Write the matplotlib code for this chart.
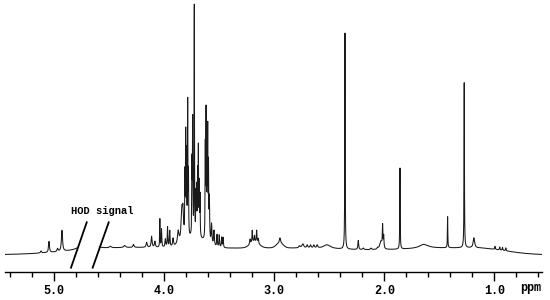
import numpy as np
import matplotlib
matplotlib.use("Agg")
import matplotlib.pyplot as plt

# ---------------- data ----------------
# sharp / medium peaks: chemical shift (ppm), height (a.u.), half-width (ppm)
peak_ppm = [5.12, 5.048, 4.97, 4.93, 4.70,
            4.49, 4.36, 4.28,
            4.16, 4.115, 4.085, 4.04, 4.025, 3.99, 3.97, 3.95, 3.92, 3.873,
            3.84, 3.83, 3.812, 3.805, 3.797, 3.787, 3.780,
            3.748, 3.742, 3.727, 3.712, 3.705, 3.697, 3.69, 3.682, 3.675,
            3.627, 3.62, 3.612, 3.605, 3.598, 3.59,
            3.57, 3.548, 3.52, 3.50, 3.478, 3.465,
            3.22, 3.20, 3.18, 3.16, 3.145, 2.948,
            2.77, 2.74, 2.70, 2.67, 2.64, 2.61, 2.52,
            2.357, 2.236, 2.19, 2.12, 2.06, 2.03, 2.015, 2.005, 1.857, 1.64,
            1.424, 1.273, 1.185, 0.993, 0.95, 0.925, 0.895]
peak_height = [2, 11, 3, 21, 60,
               1.5, 2, 3,
               5, 11, 6, 28, 18, 8, 20, 16, 8, 13,
               30, 25, 60, 100, 80, 132, 60,
               70, 112, 229, 40, 45, 60, 85, 50, 40,
               90, 122, 95, 105, 70, 42,
               20, 15, 12, 12, 10, 10,
               5, 12, 6, 12, 5, 5,
               2, 4, 3, 3, 3, 3, 4,
               216, 9, 1.5, 1.5, 1.5, 8, 22, 12, 81, 4,
               31, 165, 10, 3, 3, 3, 3]
peak_width = [0.006, 0.005, 0.006, 0.006, 0.02,
              0.01, 0.01, 0.006,
              0.006, 0.005, 0.005, 0.002, 0.003, 0.004, 0.003, 0.003, 0.005, 0.008,
              0.008, 0.006, 0.002, 0.002, 0.002, 0.002, 0.002,
              0.002, 0.002, 0.0018, 0.002, 0.002, 0.002, 0.002, 0.002, 0.002,
              0.002, 0.002, 0.002, 0.002, 0.002, 0.003,
              0.004, 0.004, 0.003, 0.003, 0.003, 0.003,
              0.004, 0.003, 0.003, 0.003, 0.004, 0.006,
              0.008, 0.01, 0.006, 0.006, 0.006, 0.006, 0.04,
              0.002, 0.004, 0.006, 0.006, 0.006, 0.012, 0.003, 0.003, 0.002, 0.05,
              0.002, 0.002, 0.008, 0.003, 0.003, 0.003, 0.003]

# broad baseline components (Gaussian): centre (ppm), height, sigma (ppm)
base_ppm = [4.40, 3.00, 1.45, 1.05, 3.72, 3.18, 2.95]
base_height = [5, 7, 5, 3, 10, 6, 5]
base_sigma = [0.45, 0.90, 0.35, 0.20, 0.09, 0.04, 0.03]
base_offset = 1.0

# region cut out of the spectrum (water / HOD signal)
hod_cut = (4.59, 4.795)

major_ticks = [5.0, 4.0, 3.0, 2.0, 1.0]
tick_labels = ["5.0", "4.0", "3.0", "2.0", "1.0"]

# ---------------- build spectrum ----------------
grid = np.linspace(0.566, 5.448, 20000)
ppm = np.union1d(grid, np.array(peak_ppm))
inten = np.full_like(ppm, base_offset)
for c, h, s in zip(base_ppm, base_height, base_sigma):
    inten += h * np.exp(-((ppm - c) ** 2) / (2 * s * s))
for c, h, w in zip(peak_ppm, peak_height, peak_width):
    inten += h * w * w / ((ppm - c) ** 2 + w * w)
inten[(ppm > hod_cut[0]) & (ppm < hod_cut[1])] = np.nan

# ---------------- figure ----------------
fig = plt.figure(figsize=(5.5, 3.0), dpi=100)
ax = fig.add_axes([5 / 550, 28 / 300, 537 / 550, 272 / 300])
ax.plot(ppm, inten, color="#1a1a1a", lw=0.75)
ax.set_xlim(5.448, 0.566)
ax.set_ylim(-16, 256)

for s in ["left", "right", "top"]:
    ax.spines[s].set_visible(False)
ax.spines["bottom"].set_linewidth(1.0)
ax.set_yticks([])
ax.set_xticks(major_ticks)
ax.set_xticklabels(tick_labels)
ax.set_xticks(np.arange(0.6, 5.45, 0.2), minor=True)
ax.tick_params(axis="x", which="major", length=6.5, width=1.0, direction="out",
               pad=3, labelsize=8.5)
ax.tick_params(axis="x", which="minor", length=3.5, width=1.0, direction="out")
for lab in ax.get_xticklabels():
    lab.set_fontfamily("Liberation Mono")
    lab.set_fontweight("bold")

ax.text(0.979, -0.058, "ppm", transform=ax.transAxes, ha="center", va="center",
        fontsize=8.5, fontfamily="Liberation Mono", fontweight="bold")

# HOD annotation: two slanted lines and label
ax.plot([4.848, 4.705], [-11.7, 33.7], color="black", lw=1.3, clip_on=False)
ax.plot([4.651, 4.505], [-11.7, 33.7], color="black", lw=1.3, clip_on=False)
ax.text(4.562, 45.3, "HOD signal", ha="center", va="center", fontsize=7.5,
        fontfamily="Liberation Mono", fontweight="bold")

fig.savefig("out.png", dpi=100)
